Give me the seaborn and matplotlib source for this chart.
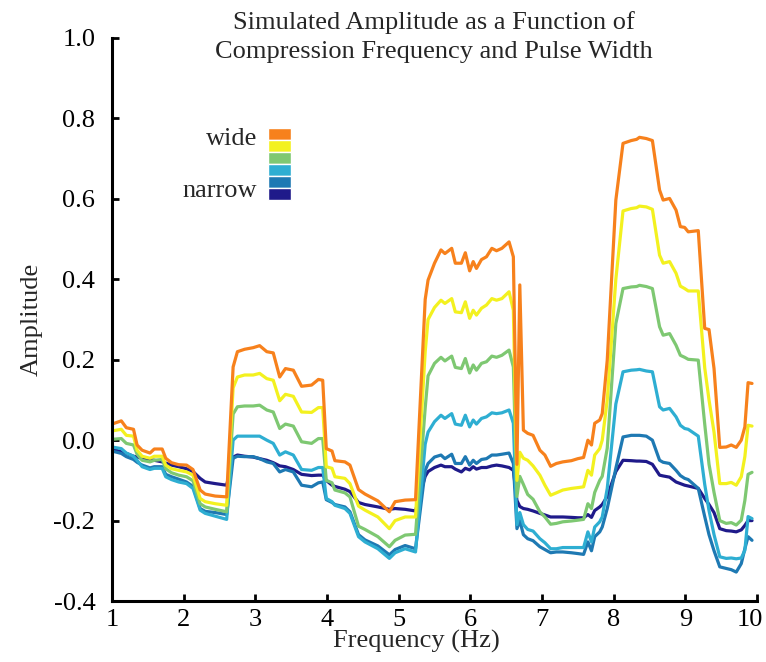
import numpy as np
import pandas as pd
import seaborn as sns
import matplotlib
matplotlib.use("Agg")
from matplotlib import pyplot as plt
from matplotlib.patches import Rectangle
from matplotlib.ticker import FormatStrFormatter
from matplotlib.transforms import ScaledTranslation

# frequency knots (Hz), shared by all six pulse widths
freq = [1.00, 1.13, 1.20, 1.30, 1.35, 1.42, 1.53, 1.59, 1.70, 1.75, 1.83, 1.93, 2.04, 2.13, 2.23, 2.30, 2.44, 2.60,
        2.69, 2.75, 2.85, 2.97, 3.06, 3.16, 3.25, 3.34, 3.42, 3.53, 3.645, 3.785, 3.88, 3.94,
        3.99, 4.07, 4.11, 4.25, 4.32, 4.44, 4.53, 4.71, 4.87, 4.95, 5.09, 5.235,
        5.37, 5.41, 5.50, 5.59, 5.645, 5.74, 5.79, 5.875, 5.93, 5.99, 6.04, 6.085, 6.155, 6.225, 6.30, 6.365, 6.44, 6.54, 6.60,
        6.65, 6.69, 6.74, 6.80, 6.875, 6.97, 7.04, 7.12, 7.20, 7.29, 7.41, 7.50, 7.58, 7.64, 7.69, 7.735, 7.805, 7.84,
        7.91, 8.03, 8.13, 8.245, 8.32, 8.36, 8.455, 8.54, 8.64, 8.69, 8.78, 8.87, 8.93, 8.99, 9.04, 9.18,
        9.27, 9.33, 9.40, 9.48, 9.57, 9.64, 9.71, 9.78, 9.83, 9.875, 9.93]

amp_w1 = [0.040, 0.048, 0.031, 0.027, -0.012, -0.025, -0.032, -0.022, -0.022, -0.045, -0.056, -0.061, -0.062, -0.073, -0.124, -0.134, -0.139, -0.141,
          0.182, 0.220, 0.226, 0.230, 0.235, 0.220, 0.217, 0.157, 0.178, 0.174, 0.134, 0.137, 0.151, 0.149,
          -0.021, -0.027, -0.051, -0.054, -0.062, -0.123, -0.134, -0.151, -0.178, -0.153, -0.149, -0.148,
          0.350, 0.398, 0.440, 0.473, 0.464, 0.477, 0.440, 0.440, 0.466, 0.421, 0.444, 0.427, 0.449, 0.456, 0.477, 0.471, 0.477, 0.493, 0.456,
          -0.060, 0.386, 0.025, 0.017, 0.012, -0.025, -0.037, -0.065, -0.058, -0.054, -0.051, -0.046, -0.043, 0.000, -0.012, 0.042, 0.050, 0.066,
          0.199, 0.597, 0.738, 0.745, 0.748, 0.753, 0.750, 0.745, 0.622, 0.597, 0.601, 0.572, 0.531, 0.529, 0.518, 0.521,
          0.278, 0.275, 0.178, -0.018, -0.017, -0.012, -0.018, 0.000, 0.033, 0.143, 0.141]

amp_w2 = [0.023, 0.027, 0.012, 0.010, -0.025, -0.040, -0.045, -0.040, -0.040, -0.062, -0.071, -0.075, -0.079, -0.087, -0.145, -0.153, -0.158, -0.162,
          0.130, 0.157, 0.162, 0.162, 0.166, 0.153, 0.149, 0.098, 0.114, 0.109, 0.070, 0.069, 0.081, 0.081,
          -0.066, -0.070, -0.091, -0.095, -0.108, -0.164, -0.174, -0.191, -0.220, -0.200, -0.191, -0.191,
          0.220, 0.300, 0.330, 0.348, 0.340, 0.352, 0.319, 0.317, 0.344, 0.303, 0.323, 0.311, 0.328, 0.336, 0.352, 0.348, 0.352, 0.369, 0.323,
          -0.100, -0.030, -0.045, -0.050, -0.064, -0.087, -0.112, -0.137, -0.131, -0.124, -0.120, -0.118, -0.116, -0.075, -0.087, -0.037, -0.021, 0.000,
          0.100, 0.400, 0.570, 0.576, 0.578, 0.582, 0.580, 0.574, 0.460, 0.440, 0.444, 0.415, 0.383, 0.377, 0.371, 0.371,
          0.180, 0.100, 0.020, -0.108, -0.108, -0.105, -0.112, -0.091, -0.041, 0.037, 0.035]

amp_w3 = [0.002, 0.004, -0.008, -0.012, -0.035, -0.050, -0.054, -0.050, -0.048, -0.071, -0.081, -0.087, -0.091, -0.101, -0.158, -0.166, -0.172, -0.178,
          0.065, 0.083, 0.085, 0.085, 0.087, 0.075, 0.070, 0.029, 0.040, 0.035, -0.004, -0.008, 0.004, 0.004,
          -0.100, -0.106, -0.124, -0.131, -0.141, -0.214, -0.222, -0.240, -0.265, -0.249, -0.236, -0.234,
          0.080, 0.160, 0.191, 0.206, 0.197, 0.209, 0.181, 0.178, 0.203, 0.167, 0.187, 0.174, 0.191, 0.195, 0.209, 0.206, 0.211, 0.224, 0.182,
          -0.140, -0.090, -0.110, -0.135, -0.147, -0.178, -0.191, -0.209, -0.207, -0.203, -0.201, -0.199, -0.197, -0.158, -0.170, -0.130, -0.100, -0.090,
          -0.020, 0.290, 0.377, 0.381, 0.382, 0.385, 0.382, 0.377, 0.282, 0.261, 0.265, 0.236, 0.211, 0.206, 0.201, 0.199,
          0.040, -0.060, -0.130, -0.200, -0.207, -0.205, -0.211, -0.199, -0.150, -0.085, -0.080]

amp_w4 = [-0.017, -0.021, -0.032, -0.040, -0.050, -0.066, -0.073, -0.070, -0.070, -0.091, -0.098, -0.104, -0.108, -0.120, -0.174, -0.182, -0.189, -0.197,
          0.000, 0.010, 0.010, 0.010, 0.010, 0.000, -0.008, -0.037, -0.029, -0.037, -0.073, -0.075, -0.068, -0.068,
          -0.145, -0.153, -0.162, -0.170, -0.182, -0.240, -0.253, -0.270, -0.294, -0.280, -0.270, -0.278,
          -0.010, 0.020, 0.046, 0.062, 0.054, 0.066, 0.040, 0.037, 0.062, 0.033, 0.050, 0.040, 0.054, 0.058, 0.068, 0.066, 0.068, 0.075, 0.042,
          -0.210, -0.180, -0.210, -0.222, -0.226, -0.245, -0.255, -0.270, -0.270, -0.267, -0.267, -0.267, -0.267, -0.228, -0.253, -0.216, -0.203, -0.191,
          -0.120, 0.090, 0.170, 0.174, 0.175, 0.176, 0.172, 0.170, 0.083, 0.075, 0.079, 0.058, 0.037, 0.029, 0.027, 0.010,
          -0.110, -0.175, -0.235, -0.290, -0.294, -0.293, -0.295, -0.293, -0.274, -0.190, -0.195]

amp_w5 = [-0.027, -0.033, -0.041, -0.048, -0.055, -0.062, -0.069, -0.066, -0.066, -0.085, -0.091, -0.097, -0.104, -0.115, -0.170, -0.177, -0.180, -0.185,
          -0.045, -0.040, -0.041, -0.041, -0.046, -0.054, -0.058, -0.079, -0.073, -0.079, -0.112, -0.116, -0.106, -0.104,
          -0.148, -0.155, -0.160, -0.166, -0.178, -0.235, -0.248, -0.263, -0.285, -0.272, -0.262, -0.270,
          -0.075, -0.058, -0.042, -0.037, -0.046, -0.035, -0.058, -0.058, -0.041, -0.062, -0.050, -0.058, -0.048, -0.046, -0.037, -0.037, -0.035, -0.032, -0.058,
          -0.220, -0.200, -0.235, -0.245, -0.250, -0.265, -0.272, -0.280, -0.278, -0.278, -0.280, -0.282, -0.284, -0.253, -0.275, -0.240, -0.228, -0.216,
          -0.170, -0.070, 0.008, 0.012, 0.012, 0.012, 0.010, 0.000, -0.050, -0.055, -0.058, -0.075, -0.088, -0.095, -0.098, -0.120,
          -0.190, -0.235, -0.275, -0.315, -0.319, -0.322, -0.328, -0.307, -0.270, -0.240, -0.249]

amp_w6 = [-0.022, -0.029, -0.033, -0.040, -0.042, -0.045, -0.048, -0.050, -0.054, -0.057, -0.062, -0.066, -0.071, -0.078, -0.095, -0.104, -0.108, -0.112,
          -0.042, -0.037, -0.040, -0.042, -0.046, -0.050, -0.056, -0.064, -0.066, -0.073, -0.085, -0.088, -0.087, -0.087,
          -0.100, -0.112, -0.115, -0.122, -0.128, -0.155, -0.160, -0.166, -0.172, -0.170, -0.172, -0.176,
          -0.090, -0.078, -0.068, -0.062, -0.066, -0.066, -0.072, -0.079, -0.070, -0.074, -0.066, -0.072, -0.068, -0.068, -0.064, -0.062, -0.064, -0.068, -0.075,
          -0.150, -0.165, -0.170, -0.172, -0.176, -0.182, -0.186, -0.191, -0.191, -0.191, -0.192, -0.193, -0.193, -0.185, -0.192, -0.175, -0.166, -0.160,
          -0.140, -0.078, -0.050, -0.051, -0.052, -0.052, -0.053, -0.060, -0.087, -0.089, -0.092, -0.104, -0.108, -0.112, -0.114, -0.120,
          -0.145, -0.160, -0.180, -0.220, -0.225, -0.226, -0.228, -0.223, -0.212, -0.200, -0.200]

# widest pulse first
widths = ["w1", "w2", "w3", "w4", "w5", "w6"]
colors = ["#f7811c", "#f3f11f", "#7ec872", "#2eaed2", "#1e79b3", "#1f1a8a"]

series = [amp_w1, amp_w2, amp_w3, amp_w4, amp_w5, amp_w6]
df = pd.concat([pd.DataFrame({"freq": freq, "amp": a, "width": w}) for w, a in zip(widths, series)],
               ignore_index=True)

sns.set_style("ticks")
plt.rcParams["font.family"] = ["Liberation Serif", "DejaVu Serif"]
plt.rcParams["axes.unicode_minus"] = False

fig = plt.figure(figsize=(7.66, 6.62), dpi=100)
ax = fig.add_axes([0.1462, 0.0921, 0.8421, 0.8505])

# narrowest drawn first so the wide pulse sits on top
sns.lineplot(data=df, x="freq", y="amp", hue="width", hue_order=widths[::-1],
             palette=dict(zip(widths, colors)), estimator=None, linewidth=2.3,
             legend=False, ax=ax)

ax.set_xlim(1, 10)
ax.set_ylim(-0.4, 1.0)
ax.set_xticks(range(1, 11))
ax.set_yticks(np.arange(-0.4, 1.01, 0.2))
ax.yaxis.set_major_formatter(FormatStrFormatter("%.1f"))
ax.tick_params(direction="in", length=5, width=2, labelsize=19, colors="black")
ax.tick_params(axis="x", pad=6)
ax.tick_params(axis="y", pad=12)
sns.despine(ax=ax)
for s in ["left", "bottom"]:
    ax.spines[s].set_linewidth(2.2)
    ax.spines[s].set_color("black")

# keep the "10" inside the canvas
last = ax.get_xticklabels()[-1]
last.set_transform(last.get_transform() + ScaledTranslation(-0.07, 0, fig.dpi_scale_trans))

ax.set_xlabel("Frequency (Hz)", fontsize=19, labelpad=-1, x=0.472)
ax.set_ylabel("Amplitude", fontsize=19, labelpad=8)

fig.text(0.567, 0.984, "Simulated Amplitude as a Function of\nCompression Frequency and Pulse Width",
         ha="center", va="top", fontsize=19, linespacing=1.42)

# colour key, stacked swatches with end labels
for i, c in enumerate(colors):
    y0 = 0.840 - (i + 1) * 0.0213
    ax.add_patch(Rectangle((0.242, y0), 0.0357, 0.0213, transform=ax.transAxes,
                           facecolor=c, edgecolor="white", linewidth=1.0, clip_on=False))
ax.text(0.226, 0.810, "wide", transform=ax.transAxes, ha="right", va="baseline", fontsize=19)
ax.text(0.225, 0.718, "narrow", transform=ax.transAxes, ha="right", va="baseline", fontsize=19)

fig.savefig("out.png", dpi=100)
